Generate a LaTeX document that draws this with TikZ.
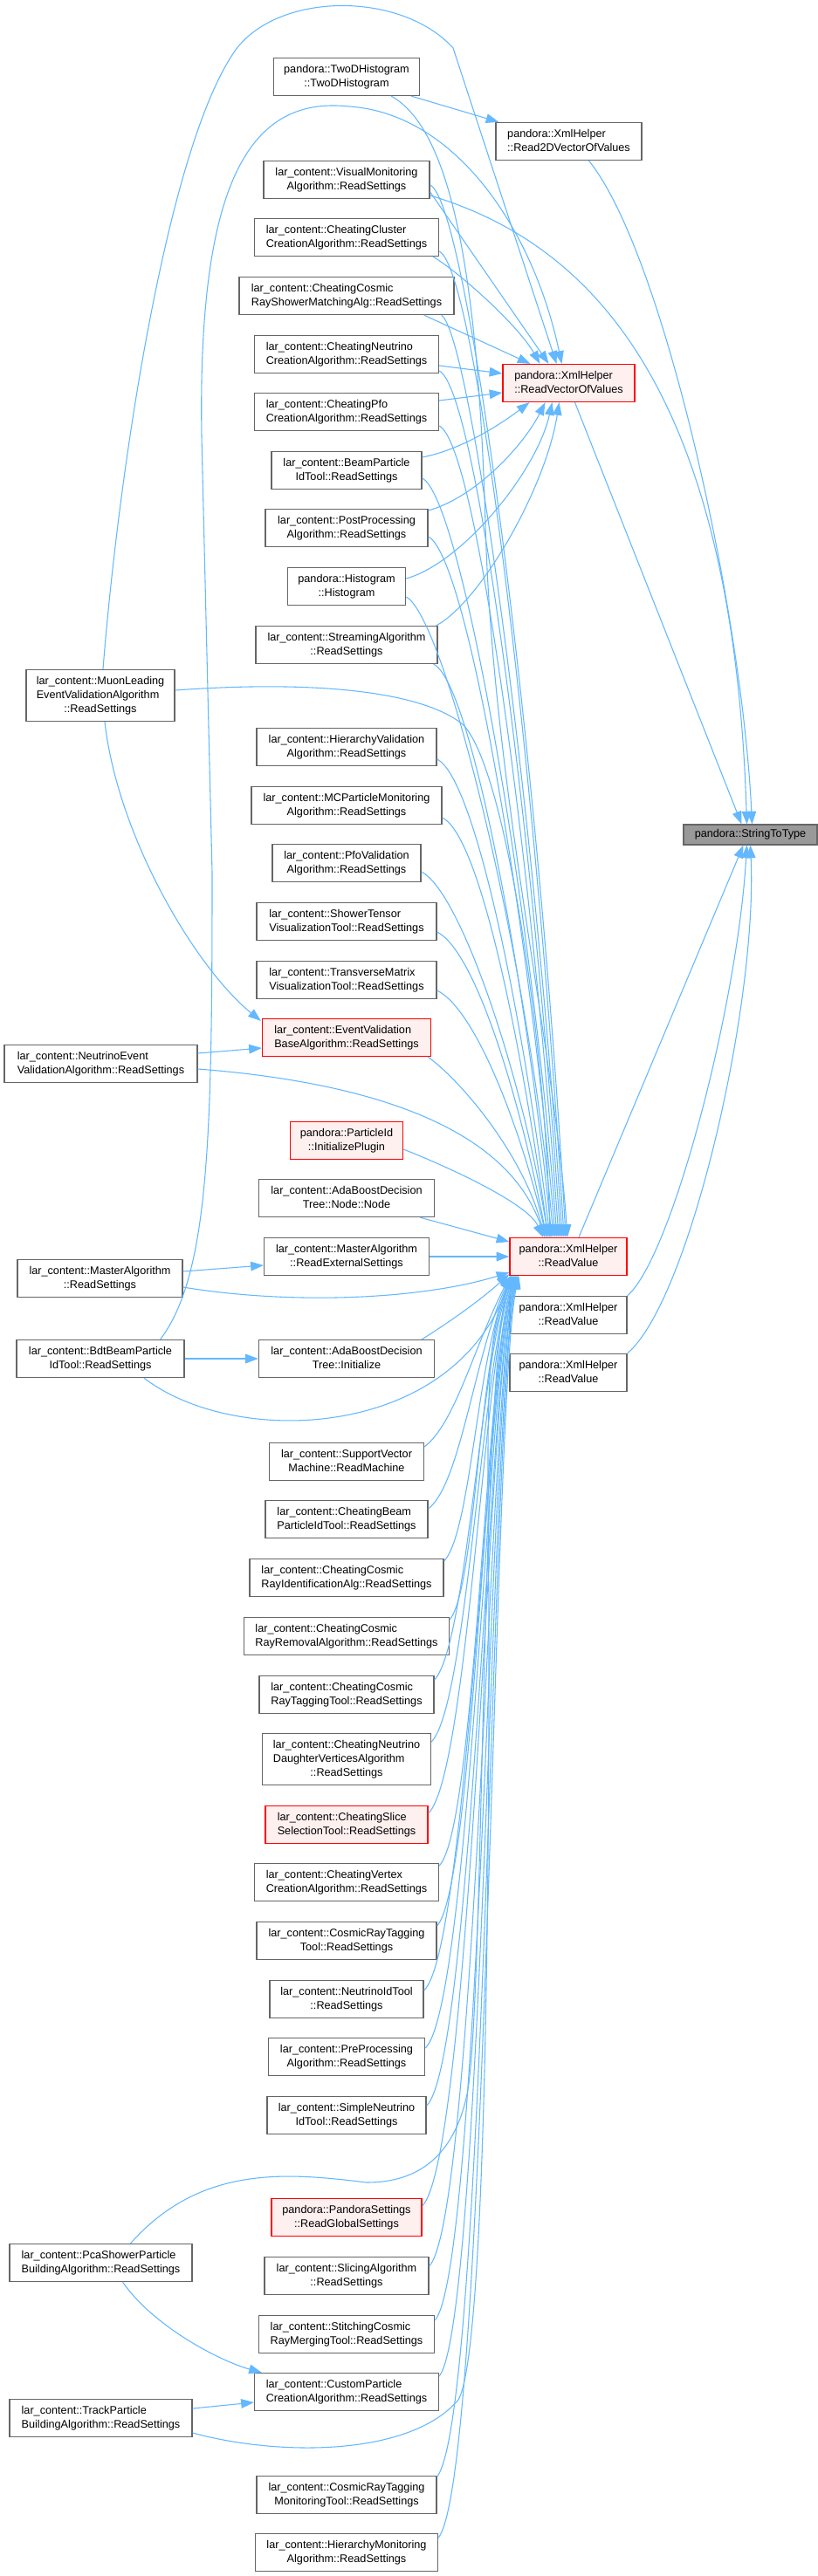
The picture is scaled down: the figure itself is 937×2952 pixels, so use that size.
\documentclass[tikz,border=0pt]{standalone}
\usepackage{fontspec}
\setmainfont{Liberation Sans}
\usetikzlibrary{arrows.meta,calc}
\definecolor{eb}{HTML}{63B8FF}
\definecolor{nb}{HTML}{666666}
\definecolor{rf}{HTML}{FFF0F0}
\definecolor{gf}{HTML}{999999}
\newcommand{\TL}[2]{\begin{tabular}{@{}l@{}}#1\\\multicolumn{1}{@{}c@{}}{#2}\end{tabular}}
\begin{document}
\begin{tikzpicture}[x=0.75pt,y=-0.75pt,
  box/.style={draw=nb, line width=1pt, fill=white, inner xsep=2pt, inner ysep=4.1pt,
    font=\fontsize{9.5}{12}\selectfont, minimum width=#1*0.75pt},
  redbox/.style={box=#1, draw=red, fill=rf},
  edge/.style={draw=eb, line width=0.8pt, -{Triangle[length=11pt,width=8pt]}},
]
\useasboundingbox (0,0) rectangle (937,2952);
\fill[white] (0,0) rectangle (937,2952);

% ---------- column C / D ----------
\node[box=167] (read2d) at (651.5,162) {\TL{pandora::XmlHelper}{::Read2DVectorOfValues}};
\node[redbox=151] (rvov) at (651.5,439) {\TL{pandora::XmlHelper}{::ReadVectorOfValues}};
\node[redbox=134] (rv) at (651,1440) {\TL{pandora::XmlHelper}{::ReadValue}};
\node[box=134] (rv2) at (651,1507) {\TL{pandora::XmlHelper}{::ReadValue}};
\node[box=134] (rv3) at (651,1573) {\TL{pandora::XmlHelper}{::ReadValue}};
\node[box=153, fill=gf] (stt) at (859.5,956.5) {pandora::StringToType};

% ---------- column A ----------
\node[box=170] (muon) at (115,797) {\TL{lar\_content::MuonLeading\\EventValidationAlgorithm}{::ReadSettings}};
\node[box=221] (nevt) at (115.5,1219) {\TL{lar\_content::NeutrinoEvent}{ValidationAlgorithm::ReadSettings}};
\node[box=189] (masterRS) at (114.5,1465) {\TL{lar\_content::MasterAlgorithm}{::ReadSettings}};
\node[box=192] (bdt) at (115,1557) {\TL{lar\_content::BdtBeamParticle}{IdTool::ReadSettings}};
\node[box=209] (pca) at (115.5,2593) {\TL{lar\_content::PcaShowerParticle}{BuildingAlgorithm::ReadSettings}};
\node[box=209] (track) at (115.5,2771) {\TL{lar\_content::TrackParticle}{BuildingAlgorithm::ReadSettings}};

% ---------- column B ----------
\node[box=167] (twod) at (397,88) {\TL{pandora::TwoDHistogram}{::TwoDHistogram}};
\node[box=190] (visual) at (397,206) {\TL{lar\_content::VisualMonitoring}{Algorithm::ReadSettings}};
\node[box=211] (cluster) at (397,272) {\TL{lar\_content::CheatingCluster}{CreationAlgorithm::ReadSettings}};
\node[box=246] (crshower) at (397,339) {\TL{lar\_content::CheatingCosmic}{RayShowerMatchingAlg::ReadSettings}};
\node[box=211] (nucreate) at (397,406) {\TL{lar\_content::CheatingNeutrino}{CreationAlgorithm::ReadSettings}};
\node[box=211] (pfocreate) at (397,472) {\TL{lar\_content::CheatingPfo}{CreationAlgorithm::ReadSettings}};
\node[box=172] (beampid) at (397,539) {\TL{lar\_content::BeamParticle}{IdTool::ReadSettings}};
\node[box=186] (postproc) at (397,605) {\TL{lar\_content::PostProcessing}{Algorithm::ReadSettings}};
\node[box=135] (histo) at (397,672) {\TL{pandora::Histogram}{::Histogram}};
\node[box=208] (stream) at (397,739) {\TL{lar\_content::StreamingAlgorithm}{::ReadSettings}};
\node[box=206] (hierval) at (397,856) {\TL{lar\_content::HierarchyValidation}{Algorithm::ReadSettings}};
\node[box=218] (mcpmon) at (397,923) {\TL{lar\_content::MCParticleMonitoring}{Algorithm::ReadSettings}};
\node[box=170] (pfoval) at (397,989) {\TL{lar\_content::PfoValidation}{Algorithm::ReadSettings}};
\node[box=206] (shower) at (397,1056) {\TL{lar\_content::ShowerTensor}{VisualizationTool::ReadSettings}};
\node[box=206] (transverse) at (397,1123) {\TL{lar\_content::TransverseMatrix}{VisualizationTool::ReadSettings}};
\node[redbox=193] (evbase) at (397,1189) {\TL{lar\_content::EventValidation}{BaseAlgorithm::ReadSettings}};
\node[redbox=129] (pid) at (397,1307) {\TL{pandora::ParticleId}{::InitializePlugin}};
\node[box=201] (adanode) at (397,1373) {\TL{lar\_content::AdaBoostDecision}{Tree::Node::Node}};
\node[box=189] (masterext) at (397,1440) {\TL{lar\_content::MasterAlgorithm}{::ReadExternalSettings}};
\node[box=201] (adainit) at (397,1557) {\TL{lar\_content::AdaBoostDecision}{Tree::Initialize}};
\node[box=177] (svm) at (397,1675) {\TL{lar\_content::SupportVector}{Machine::ReadMachine}};
\node[box=186] (cbeam) at (397,1741) {\TL{lar\_content::CheatingBeam}{ParticleIdTool::ReadSettings}};
\node[box=222] (crid) at (397,1808) {\TL{lar\_content::CheatingCosmic}{RayIdentificationAlg::ReadSettings}};
\node[box=235] (crremoval) at (397,1875) {\TL{lar\_content::CheatingCosmic}{RayRemovalAlgorithm::ReadSettings}};
\node[box=200] (crtag) at (397,1942) {\TL{lar\_content::CheatingCosmic}{RayTaggingTool::ReadSettings}};
\node[box=193] (nudaughter) at (397,2016) {\TL{lar\_content::CheatingNeutrino\\DaughterVerticesAlgorithm}{::ReadSettings}};
\node[redbox=186] (slicesel) at (397,2091) {\TL{lar\_content::CheatingSlice}{SelectionTool::ReadSettings}};
\node[box=211] (vertex) at (397,2157) {\TL{lar\_content::CheatingVertex}{CreationAlgorithm::ReadSettings}};
\node[box=206] (crtagtool) at (397,2224) {\TL{lar\_content::CosmicRayTagging}{Tool::ReadSettings}};
\node[box=176] (nuid) at (397,2291) {\TL{lar\_content::NeutrinoIdTool}{::ReadSettings}};
\node[box=179] (preproc) at (397,2357) {\TL{lar\_content::PreProcessing}{Algorithm::ReadSettings}};
\node[box=182] (simplenu) at (397,2424) {\TL{lar\_content::SimpleNeutrino}{IdTool::ReadSettings}};
\node[redbox=172] (pandoraset) at (397,2541) {\TL{pandora::PandoraSettings}{::ReadGlobalSettings}};
\node[box=188] (slicing) at (397,2608) {\TL{lar\_content::SlicingAlgorithm}{::ReadSettings}};
\node[box=201] (stitching) at (397,2675) {\TL{lar\_content::StitchingCosmic}{RayMergingTool::ReadSettings}};
\node[box=211] (custom) at (397,2741) {\TL{lar\_content::CustomParticle}{CreationAlgorithm::ReadSettings}};
\node[box=206] (crtagmon) at (397,2859) {\TL{lar\_content::CosmicRayTagging}{MonitoringTool::ReadSettings}};
\node[box=209] (hiermon) at (397,2925) {\TL{lar\_content::HierarchyMonitoring}{Algorithm::ReadSettings}};

% ---------- edges into StringToType ----------
\draw[edge] ($(read2d.south)+(23,0)$) .. controls (760,290) and (850,700) .. ($(stt.north)+(2,0)$);
\draw[edge] ($(visual.east)+(0,18)$) .. controls (680,280) and (840,450) .. ($(stt.north)+(-4,0)$);
\draw[edge] ($(rvov.south)+(7,0)$) -- ($(stt.north)+(-10,0)$);
\draw[edge] ($(rv.north)+(12,0)$) -- ($(stt.south)+(-8,0)$);
\draw[edge] (rv2.north east) .. controls (770,1440) and (845,1150) .. ($(stt.south)+(-4,0)$);
\draw[edge] (rv3.north east) .. controls (790,1490) and (868,1150) .. ($(stt.south)+(0,0)$);

% ---------- edges into Read2DVectorOfValues ----------
\draw[edge] ($(twod.south east)+(-10,0)$) -- ($(read2d.north west)+(4,0)$);

% ---------- edges into ReadVectorOfValues ----------
\draw[edge] ($(muon.north)+(3,0)$) .. controls (135,550) and (190,170) .. (270,57)
   .. controls (320,-10) and (460,-10) .. (519,55) -- ($(rvov.north)+(-14,0)$);
\draw[edge] ($(bdt.north east)+(-28,0)$) .. controls (240,1460) and (243,1300) .. (243,1000)
   -- (231,500) .. controls (226,200) and (290,110) .. (400,122)
   .. controls (520,130) and (610,260) .. ($(rvov.north)+(-8,0)$);
\draw[edge] ($(visual.east)+(0,14)$) -- ($(rvov.north)+(-23,0)$);
\draw[edge] ($(cluster.south east)+(-7,0)$) .. controls (530,315) and (595,375) .. ($(rvov.north)+(-33,0)$);
\draw[edge] ($(crshower.south east)+(-35,0)$) -- ($(rvov.north)+(-44,0)$);
\draw[edge] ($(nucreate.east)+(0,13)$) -- ($(rvov.west)+(0,-11)$);
\draw[edge] ($(pfocreate.east)+(0,-13)$) -- ($(rvov.west)+(0,11)$);
\draw[edge] ($(beampid.east)+(0,-15)$) .. controls (530,515) and (575,485) .. ($(rvov.south)+(-45,0)$);
\draw[edge] ($(postproc.east)+(0,-20)$) .. controls (545,570) and (600,510) .. ($(rvov.south)+(-27,0)$);
\draw[edge] ($(histo.east)+(0,-9)$) .. controls (530,645) and (615,540) .. ($(rvov.south)+(-19,0)$);
\draw[edge] ($(stream.north east)+(-2,0)$) .. controls (550,690) and (625,560) .. ($(rvov.south)+(-11,0)$);

% ---------- edges into EventValidationBase / MasterExt / AdaInit / Custom ----------
\draw[edge] ($(muon.south)+(5,0)$) .. controls (135,960) and (225,1110) .. ($(evbase.north west)+(-1,3)$);
\draw[edge] ($(nevt.east)+(0,-12)$) -- ($(evbase.west)+(0,12)$);
\draw[edge] ($(masterRS.east)+(0,-8)$) -- ($(masterext.west)+(0,10)$);
\draw[edge] (bdt.east) -- (adainit.west);
\draw[edge] ($(pca.south)+(25,0)$) .. controls (175,2665) and (250,2705) .. ($(custom.north west)+(9,0)$);
\draw[edge] ($(track.east)+(0,-11)$) -- ($(custom.west)+(0,12)$);

% ---------- edges into ReadValue from above ----------
\draw[edge] ($(twod.south east)+(-33,0)$) .. controls (520,150) and (548,330) .. (556,600)
   .. controls (564,900) and (635,1200) .. ($(rv.north)+(-1,0)$);
\draw[edge] ($(visual.east)+(0,6)$) .. controls (537,232) and (618,877) .. ($(rv.north)+(-3,0)$);
\draw[edge] ($(cluster.east)+(0,16)$) .. controls (547,310) and (616,911) .. ($(rv.north)+(-5,0)$);
\draw[edge] ($(crshower.south east)+(-15,0)$) .. controls (540,385) and (614,942) .. ($(rv.north)+(-7,0)$);
\draw[edge] ($(nucreate.east)+(0,19)$) .. controls (547,447) and (612,971) .. ($(rv.north)+(-9,0)$);
\draw[edge] ($(pfocreate.east)+(0,16)$) .. controls (547,510) and (610,1000) .. ($(rv.north)+(-11,0)$);
\draw[edge] ($(beampid.east)+(0,9)$) .. controls (528,570) and (608,1027) .. ($(rv.north)+(-13,0)$);
\draw[edge] ($(postproc.east)+(0,10)$) .. controls (535,637) and (606,1058) .. ($(rv.north)+(-15,0)$);
\draw[edge] ($(histo.east)+(0,12)$) .. controls (509,706) and (604,1088) .. ($(rv.north)+(-17,0)$);
\draw[edge] ($(stream.south east)+(-5,0)$) .. controls (540,782) and (602,1122) .. ($(rv.north)+(-19,0)$);
\draw[edge] ($(muon.east)+(0,-6)$) .. controls (350,780) and (480,790) .. (530,830)
   .. controls (580,880) and (625,1200) .. ($(rv.north)+(-21,0)$);
\draw[edge] ($(hierval.east)+(0,14)$) .. controls (545,892) and (600,1171) .. ($(rv.north)+(-21,0)$);
\draw[edge] ($(mcpmon.east)+(0,14)$) .. controls (551,959) and (598,1202) .. ($(rv.north)+(-23,0)$);
\draw[edge] ($(pfoval.east)+(0,10)$) .. controls (527,1021) and (598,1231) .. ($(rv.north)+(-23,0)$);
\draw[edge] ($(shower.east)+(0,12)$) .. controls (545,1090) and (596,1261) .. ($(rv.north)+(-25,0)$);
\draw[edge] ($(transverse.east)+(0,12)$) .. controls (545,1157) and (596,1292) .. ($(rv.north)+(-25,0)$);
\draw[edge] ($(evbase.south east)+(-4,0)$) .. controls (530,1240) and (600,1325) .. ($(rv.north)+(-27,0)$);
\draw[edge] ($(nevt.east)+(0,6)$) .. controls (420,1240) and (580,1290) .. ($(rv.north)+(-27,0)$);
\draw[edge] ($(pid.east)+(0,10)$) .. controls (520,1340) and (605,1380) .. ($(rv.north)+(-29,0)$);

% ---------- edges into ReadValue from the left ----------
\draw[edge] ($(adanode.south east)+(-17,0)$) -- ($(rv.west)+(0,-17)$);
\draw[edge] (masterext.east) -- (rv.west);
\draw[edge] ($(masterRS.east)+(0,10)$) .. controls (330,1495) and (480,1490) .. ($(rv.south west)+(0,-4)$);

% ---------- edges into ReadValue from below ----------
\draw[edge] ($(bdt.south)+(50,0)$) .. controls (270,1660) and (520,1650) .. ($(rv.south west)+(2,0)$);
\draw[edge] ($(adainit.north east)+(-15,0)$) .. controls (515,1515) and (550,1490) .. ($(rv.south west)+(0,-2)$);
\draw[edge] ($(svm.east)+(0,-17)$) .. controls (522,1630) and (542,1545) .. ($(rv.south west)+(1,0)$);
\draw[edge] ($(cbeam.east)+(0,-12)$) .. controls (528,1700) and (544,1550) .. ($(rv.south west)+(2,0)$);
\draw[edge] ($(crid.east)+(0,-19)$) .. controls (540,1755) and (546,1555) .. ($(rv.south west)+(3,0)$);
\draw[edge] ($(crremoval.east)+(0,-19)$) .. controls (545,1820) and (548,1560) .. ($(rv.south west)+(3,0)$);
\draw[edge] ($(crtag.east)+(0,-17)$) .. controls (535,1885) and (550,1560) .. ($(rv.south west)+(4,0)$);
\draw[edge] ($(nudaughter.east)+(0,-20)$) .. controls (535,1955) and (552,1565) .. ($(rv.south west)+(5,0)$);
\draw[edge] ($(slicesel.east)+(0,-13)$) .. controls (535,2035) and (554,1565) .. ($(rv.south west)+(5,0)$);
\draw[edge] ($(vertex.east)+(0,-19)$) .. controls (545,2095) and (556,1570) .. ($(rv.south west)+(6,0)$);
\draw[edge] ($(crtagtool.east)+(0,-17)$) .. controls (543,2160) and (557,1570) .. ($(rv.south west)+(6,0)$);
\draw[edge] ($(nuid.east)+(0,-10)$) .. controls (535,2235) and (558,1575) .. ($(rv.south west)+(7,0)$);
\draw[edge] ($(preproc.east)+(0,-10)$) .. controls (538,2300) and (559,1575) .. ($(rv.south west)+(7,0)$);
\draw[edge] ($(simplenu.east)+(0,-11)$) .. controls (540,2365) and (560,1580) .. ($(rv.south west)+(8,0)$);
\draw[edge] ($(pandoraset.east)+(0,-13)$) .. controls (540,2470) and (560,1580) .. ($(rv.south west)+(8,0)$);
\draw[edge] ($(slicing.east)+(0,-11)$) .. controls (545,2540) and (561,1585) .. ($(rv.south west)+(9,0)$);
\draw[edge] ($(stitching.east)+(0,-16)$) .. controls (550,2600) and (562,1585) .. ($(rv.south west)+(9,0)$);
\draw[edge] ($(custom.east)+(0,-18)$) .. controls (553,2660) and (563,1590) .. ($(rv.south west)+(10,0)$);
\draw[edge] ($(crtagmon.east)+(0,-21)$) .. controls (556,2770) and (564,1590) .. ($(rv.south west)+(10,0)$);
\draw[edge] ($(hiermon.east)+(0,-17)$) .. controls (558,2840) and (565,1595) .. ($(rv.south west)+(11,0)$);
\draw[edge] ($(pca.north)+(34,0)$) .. controls (230,2480) and (330,2490) .. (420,2501)
   .. controls (480,2501) and (520,2470) .. (535,2400)
   .. controls (555,2300) and (550,1600) .. ($(rv.south west)+(1,0)$);
\draw[edge] ($(track.east)+(0,17)$) .. controls (320,2815) and (470,2815) .. (525,2750)
   .. controls (555,2700) and (560,2200) .. (560,1900)
   .. controls (560,1650) and (552,1540) .. ($(rv.south west)+(3,0)$);
\end{tikzpicture}
\end{document}
